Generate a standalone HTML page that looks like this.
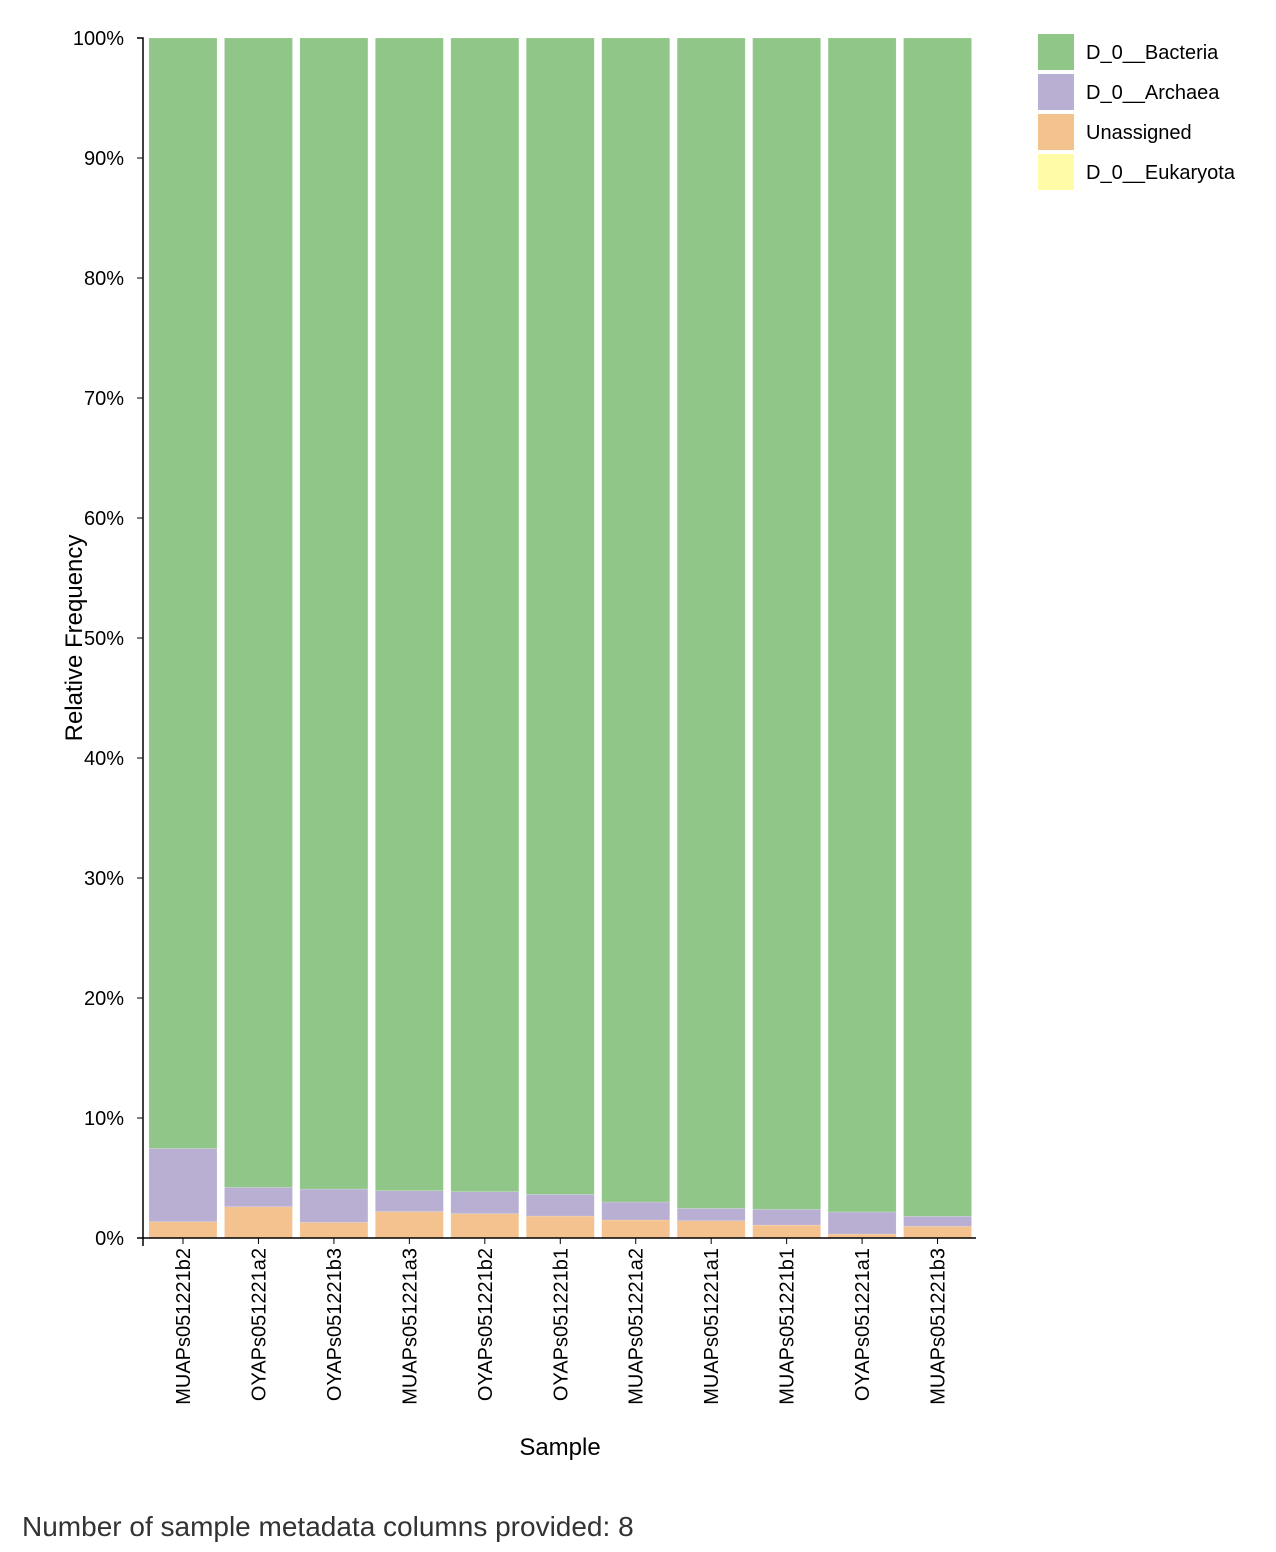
<!DOCTYPE html>
<html><head><meta charset="utf-8"><style>
body{margin:0;background:#fff;font-family:"Liberation Sans",Arial,sans-serif}
svg{display:block}
</style></head><body>
<svg id="chart" width="1276" height="1552" font-family="Liberation Sans, Arial, sans-serif"></svg>
<script>
const samples=["MUAPs051221b2","OYAPs051221a2","OYAPs051221b3","MUAPs051221a3","OYAPs051221b2","OYAPs051221b1","MUAPs051221a2","MUAPs051221a1","MUAPs051221b1","OYAPs051221a1","MUAPs051221b3"];
const unassigned=[1.36,2.6,1.3,2.2,2.03,1.83,1.5,1.44,1.08,0.33,0.97];
const archaea=[6.11,1.62,2.78,1.74,1.83,1.81,1.5,1.03,1.31,1.84,0.84];
const eukaryota=[0,0,0,0,0,0,0,0,0,0,0];
const yTicks=[0,10,20,30,40,50,60,70,80,90,100];
const legendLabels=["D_0__Bacteria","D_0__Archaea","Unassigned","D_0__Eukaryota"];
const colors={"D_0__Bacteria":"#90c688","D_0__Archaea":"#b9afd2","Unassigned":"#f3c28f","D_0__Eukaryota":"#fffba6"};
const NS="http://www.w3.org/2000/svg";
const svg=document.getElementById('chart');
function mk(t,a,p){const e=document.createElementNS(NS,t);for(const k in a)e.setAttribute(k,a[k]);(p||svg).appendChild(e);return e;}
const y0=1238,y1=38,xL=146,xR=976;
const y=v=>y0-(v/100)*(y0-y1);
const band=(xR-xL)/samples.length;
const x=i=>xL+i*band+3;
const bw=68;
samples.forEach((s,i)=>{
  const g=mk('g',{});
  
  
  const u=unassigned[i],a=archaea[i],e=eukaryota[i];
  const segs=[["Unassigned",0,u],["D_0__Archaea",u,u+a],["D_0__Eukaryota",u+a,u+a+e],["D_0__Bacteria",u+a+e,100]];
  segs.forEach(([k,lo,hi])=>{
    if(hi-lo<=0)return;
    const r=mk('rect',{x:x(i),y:y(hi),width:bw,height:y(lo)-y(hi),fill:colors[k],stroke:'#ffffff','stroke-opacity':0.3,'stroke-width':0.5},g);
    
    
  });
  const cx=x(i)+bw/2;
  mk('line',{x1:cx,x2:cx,y1:y0,y2:y0+6,stroke:'#000'});
  const t=mk('text',{x:0,y:0,transform:`translate(${cx+7},${y0+10}) rotate(-90)`,'text-anchor':'end','font-size':20},g);
  t.textContent=s;
  
  
});
const ya=mk('path',{d:`M137,${y1}H143V${y0}H137`,fill:'none',stroke:'#000','stroke-width':1.5});


const xa=mk('path',{d:`M143,${y0+8}V${y0}H976`,fill:'none',stroke:'#000','stroke-width':1.5});


yTicks.forEach(v=>{
  mk('line',{x1:137,x2:143,y1:y(v),y2:y(v),stroke:'#000'});
  const t=mk('text',{x:124,y:y(v)+7,'text-anchor':'end','font-size':20});
  t.textContent=v+'%';
  
  
});
const yt=mk('text',{transform:'translate(82,638) rotate(-90)','text-anchor':'middle','font-size':24});
yt.textContent='Relative Frequency';


const xt=mk('text',{x:560,y:1455,'text-anchor':'middle','font-size':24});
xt.textContent='Sample';


legendLabels.forEach((k,i)=>{
  const g=mk('g',{});
  
  
  mk('rect',{x:1038,y:34+i*40,width:36,height:36,fill:colors[k]},g);
  const t=mk('text',{x:1086,y:59+i*40,'font-size':20},g);
  t.textContent=k;
});
const f=mk('text',{x:22,y:1536,'font-size':28,fill:'#333'});
f.textContent='Number of sample metadata columns provided: 8';


</script>
</body></html>
